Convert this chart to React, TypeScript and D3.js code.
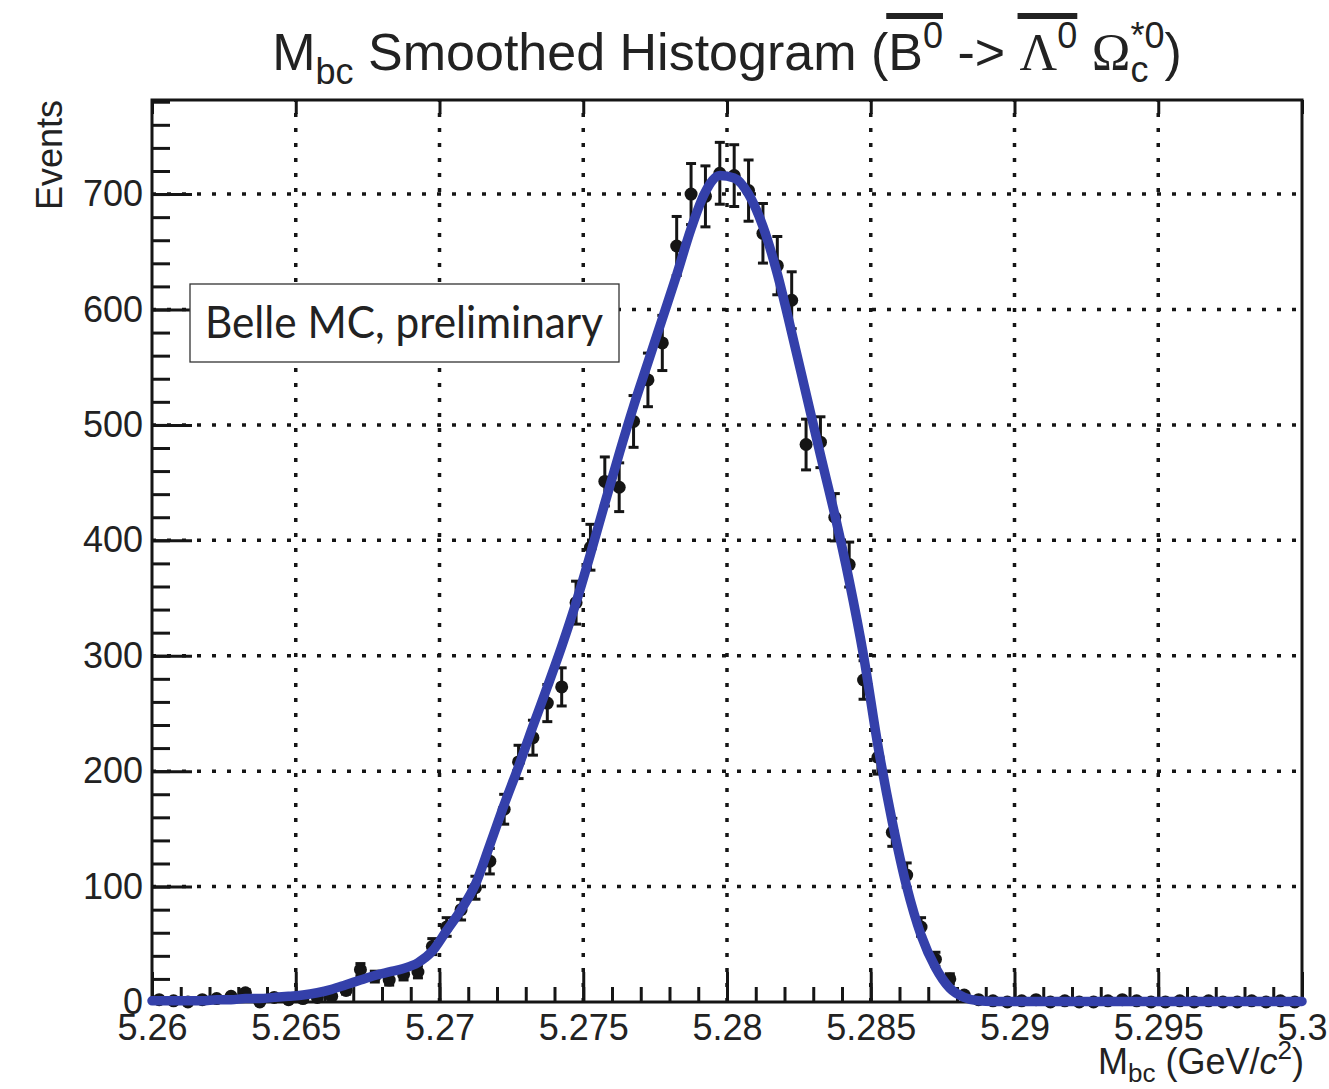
import React, { useEffect, useRef } from 'react';
import * as d3 from 'd3';

const MASS_MIN = 5.26;
const MASS_MAX = 5.3;
const BIN_WIDTH = 0.0005;
const Y_MAX = 781.5;

const xMajorTicks = [5.26, 5.265, 5.27, 5.275, 5.28, 5.285, 5.29, 5.295, 5.3];
const xTickLabels = ['5.26', '5.265', '5.27', '5.275', '5.28', '5.285', '5.29', '5.295', '5.3'];
const yMajorTicks = [0, 100, 200, 300, 400, 500, 600, 700];
const yTickLabels = ['0', '100', '200', '300', '400', '500', '600', '700'];

// Histogram contents (80 bins of 0.0005 GeV/c^2 from 5.26 to 5.30)
const eventCounts = [
  2, 1, 0, 2, 3, 5, 8, 0, 4, 2, 3, 4, 5, 10, 28, 22, 19, 24,
  26, 48, 65, 80, 99, 122, 167, 208, 229, 259, 273, 346, 394, 451, 446, 503, 539, 571,
  655, 700, 698, 718, 716, 703, 666, 638, 608, 483, 485, 420, 379, 279, 212, 147, 110, 65, 37, 20, 6,
  2, 1, 0, 1, 2, 0, 1, 0, 0, 1, 2, 1, 0, 0, 1, 0, 1, 0, 0, 1, 0, 1, 0,
];

// Smoothed histogram evaluated at the bin centres
const smoothedCounts = [
  1, 1, 1, 1, 2, 2, 3, 3, 4, 5, 6, 8, 11, 15, 19, 23, 26, 29, 34, 44,
  62, 80, 102, 136, 171, 204, 239, 273, 308, 346, 388, 432, 475, 516, 554, 592, 630, 670, 702, 716,
  714, 700, 672, 631, 580, 527, 474, 422, 365, 300, 222, 156, 100, 58, 30, 12, 4, 1, 0.5, 0.5,
  0.5, 0.5, 0.5, 0.5, 0.5, 0.5, 0.5, 0.5, 0.5, 0.5, 0.5, 0.5, 0.5, 0.5, 0.5, 0.5, 0.5, 0.5, 0.5, 0.5,
];

const legendText = 'Belle MC, preliminary';

type Piece = { text: string; size: number; shift: number; family: string; italic?: boolean; stack?: boolean };

export default function App() {
  const ref = useRef<SVGSVGElement>(null);

  useEffect(() => {
    const svg = d3.select(ref.current as SVGSVGElement);
    svg.selectAll('*').remove();
    const L = 152, R = 1302, T = 100, B = 1002;
    const SANS = "'Liberation Sans', Arial, Helvetica, sans-serif";
    const SERIF = "'Liberation Serif', 'Times New Roman', serif";
    const INK = '#151515';

    const x = d3.scaleLinear().domain([MASS_MIN, MASS_MAX]).range([L, R]);
    const y = d3.scaleLinear().domain([0, Y_MAX]).range([B, T]);
    const binCenters = eventCounts.map((_, i) => MASS_MIN + BIN_WIDTH * (i + 0.5));

    svg.append('rect').attr('width', 1329).attr('height', 1089).attr('fill', '#fff');

    // grid
    const grid = svg.append('g').attr('stroke', INK).attr('stroke-width', 3.5).attr('stroke-dasharray', '4 11');
    grid.selectAll('line.gx').data(xMajorTicks.slice(1, -1)).join('line').attr('class', 'gx')
      .attr('x1', (d) => x(d)).attr('x2', (d) => x(d)).attr('y1', B).attr('y2', T);
    grid.selectAll('line.gy').data(yMajorTicks.slice(1)).join('line').attr('class', 'gy')
      .attr('x1', L).attr('x2', R).attr('y1', (d) => y(d)).attr('y2', (d) => y(d));

    // axes
    const styleAxis = (g: any) => {
      g.select('.domain').remove();
      g.selectAll('line').attr('stroke', INK).attr('stroke-width', 3);
      g.selectAll('text').attr('font-family', SANS).attr('font-size', 36).attr('fill', '#222');
    };
    const xMinor = d3.range(0, 41).map((i) => MASS_MIN + i * 0.001);
    svg.append('g').attr('transform', `translate(0,${B})`)
      .call(d3.axisBottom(x).tickValues(xMinor).tickSizeInner(-15).tickSizeOuter(0).tickFormat(() => '') as any)
      .call(styleAxis);
    svg.append('g').attr('transform', `translate(0,${B})`)
      .call(d3.axisBottom(x).tickValues(xMajorTicks).tickSizeInner(-30).tickSizeOuter(0).tickPadding(12)
        .tickFormat((d, i) => xTickLabels[i]) as any)
      .call(styleAxis);
    svg.append('g').attr('transform', `translate(0,${T})`)
      .call(d3.axisTop(x).tickValues(xMajorTicks).tickSizeInner(-14).tickSizeOuter(0).tickFormat(() => '') as any)
      .call(styleAxis);

    const yMinor = d3.range(0, Y_MAX, 20);
    svg.append('g').attr('transform', `translate(${L},0)`)
      .call(d3.axisLeft(y).tickValues(yMinor).tickSizeInner(-18).tickSizeOuter(0).tickFormat(() => '') as any)
      .call(styleAxis);
    svg.append('g').attr('transform', `translate(${L},0)`)
      .call(d3.axisLeft(y).tickValues(yMajorTicks).tickSizeInner(-40).tickSizeOuter(0).tickPadding(9)
        .tickFormat((d, i) => yTickLabels[i]) as any)
      .call(styleAxis);

    // frame
    svg.append('rect').attr('x', L).attr('y', T).attr('width', R - L).attr('height', B - T)
      .attr('fill', 'none').attr('stroke', INK).attr('stroke-width', 3);

    // data points with errors
    const data = eventCounts.map((c, i) => ({ m: binCenters[i], c, e: Math.sqrt(c) }));
    const pts = svg.append('g').attr('stroke', INK).attr('stroke-width', 3);
    pts.selectAll('line.err').data(data).join('line').attr('class', 'err')
      .attr('x1', (d) => x(d.m)).attr('x2', (d) => x(d.m))
      .attr('y1', (d) => y(d.c + d.e)).attr('y2', (d) => y(Math.max(0, d.c - d.e)));
    pts.selectAll('line.capt').data(data).join('line').attr('class', 'capt')
      .attr('x1', (d) => x(d.m) - 5).attr('x2', (d) => x(d.m) + 5)
      .attr('y1', (d) => y(d.c + d.e)).attr('y2', (d) => y(d.c + d.e));
    pts.selectAll('line.capb').data(data).join('line').attr('class', 'capb')
      .attr('x1', (d) => x(d.m) - 5).attr('x2', (d) => x(d.m) + 5)
      .attr('y1', (d) => y(Math.max(0, d.c - d.e))).attr('y2', (d) => y(Math.max(0, d.c - d.e)));
    pts.selectAll('circle').data(data).join('circle')
      .attr('cx', (d) => x(d.m)).attr('cy', (d) => y(d.c)).attr('r', 6.5)
      .attr('fill', INK).attr('stroke', 'none');

    // smoothed curve
    const curvePts: [number, number][] = [
      [MASS_MIN, smoothedCounts[0]],
      ...binCenters.map((m, i) => [m, smoothedCounts[i]] as [number, number]),
      [MASS_MAX, smoothedCounts[smoothedCounts.length - 1]],
    ];
    const line = d3.line<[number, number]>().x((d) => x(d[0])).y((d) => y(d[1])).curve(d3.curveMonotoneX);
    svg.append('path').attr('d', line(curvePts) as string).attr('fill', 'none')
      .attr('stroke', '#3440aa').attr('stroke-width', 9.5).attr('stroke-linejoin', 'round').attr('stroke-linecap', 'round');

    // rich text layout helper
    const layout = (pieces: Piece[], anchorX: number, baseY: number, anchor: 'middle' | 'end', fill: string) => {
      const g = svg.append('g');
      const nodes = pieces.map((p) =>
        g.append('text').text(p.text).attr('font-size', p.size).attr('font-family', p.family)
          .attr('font-style', p.italic ? 'italic' : 'normal').attr('fill', fill)
          .attr('y', baseY + p.shift).style('white-space', 'pre'));
      const widths = nodes.map((n) => (n.node() as SVGTextElement).getComputedTextLength());
      let cursor = 0;
      let pending = 0;
      const xs: number[] = [];
      pieces.forEach((p, i) => {
        xs.push(cursor);
        if (p.stack) pending = widths[i];
        else { cursor += Math.max(widths[i], pending); pending = 0; }
      });
      const start = anchor === 'middle' ? anchorX - cursor / 2 : anchorX - cursor;
      nodes.forEach((n, i) => n.attr('x', start + xs[i]));
      return { start, xs: xs.map((v) => v + start), widths, g };
    };

    // title
    const TS = 52, SS = 36;
    const titlePieces: Piece[] = [
      { text: 'M', size: TS, shift: 0, family: SANS },
      { text: 'bc', size: SS, shift: 14, family: SANS },
      { text: ' Smoothed Histogram (', size: TS, shift: 0, family: SANS },
      { text: 'B', size: TS, shift: 0, family: SANS },
      { text: '0', size: SS, shift: -22, family: SANS },
      { text: ' -> ', size: TS, shift: 0, family: SANS },
      { text: 'Λ', size: TS, shift: 0, family: SERIF },
      { text: '0', size: SS, shift: -22, family: SANS },
      { text: ' ', size: TS, shift: 0, family: SANS },
      { text: 'Ω', size: TS, shift: 0, family: SERIF },
      { text: 'c', size: SS, shift: 12, family: SANS, stack: true },
      { text: '*0', size: SS, shift: -22, family: SANS },
      { text: ')', size: TS, shift: 0, family: SANS },
    ];
    const t = layout(titlePieces, (L + R) / 2, 70, 'middle', '#222');
    const over = (a: number, b: number) => {
      t.g.append('rect').attr('x', t.xs[a] - 2).attr('width', t.xs[b] + t.widths[b] - t.xs[a] + 2)
        .attr('y', 13).attr('height', 6).attr('fill', '#222');
    };
    over(3, 4);
    over(6, 7);

    // axis titles
    layout([
      { text: 'M', size: 36, shift: 0, family: SANS },
      { text: 'bc', size: 26, shift: 8, family: SANS },
      { text: ' (GeV/', size: 36, shift: 0, family: SANS },
      { text: 'c', size: 36, shift: 0, family: SANS, italic: true },
      { text: '2', size: 26, shift: -15, family: SANS },
      { text: ')', size: 36, shift: 0, family: SANS },
    ], 1304, 1074, 'end', '#222');

    svg.append('text').text('Events').attr('transform', 'translate(62,100) rotate(-90)')
      .attr('text-anchor', 'end').attr('font-family', SANS).attr('font-size', 36).attr('fill', '#222');

    // legend box
    svg.append('rect').attr('x', 190).attr('y', 284).attr('width', 429).attr('height', 78)
      .attr('fill', '#fff').attr('stroke', '#333').attr('stroke-width', 1.3);
    svg.append('text').text(legendText).attr('x', 205).attr('y', 338)
      .attr('font-family', "Lato, 'Open Sans', sans-serif").attr('font-size', 45).attr('fill', '#222')
      .attr('textLength', 398).attr('lengthAdjust', 'spacingAndGlyphs');
  }, []);

  return (
    <svg ref={ref} width={1329} height={1089}
      style={{ position: 'fixed', left: 0, top: 0, display: 'block', background: '#fff' }} />
  );
}
